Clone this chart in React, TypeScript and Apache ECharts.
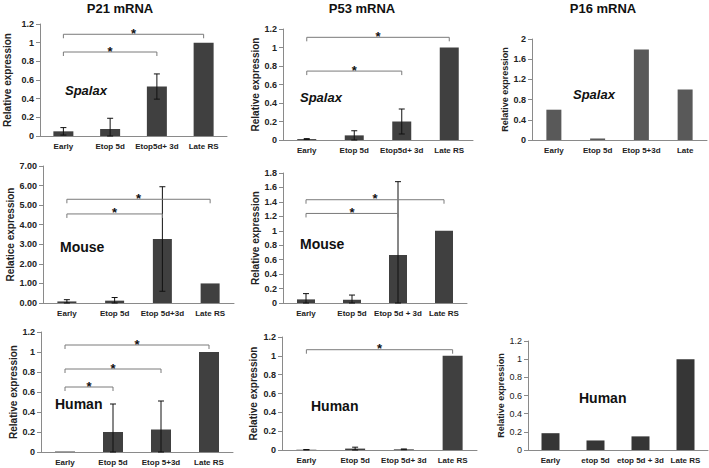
import React, { useEffect, useRef } from "react";
import * as echarts from "echarts";

// ---------- DATA ----------
const p21SpalaxCategories = ["Early", "Etop 5d", "Etop5d+ 3d", "Late RS"];
const p21SpalaxValues = [0.05, 0.075, 0.53, 1.0];
const p21SpalaxErrors = [0.04, 0.115, 0.135, 0];
const p21SpalaxBrackets = [[0, 3, 1.09], [0, 2, 0.9]];

const p53SpalaxCategories = ["Early", "Etop 5d", "Etop5d+ 3d", "Late RS"];
const p53SpalaxValues = [0.01, 0.05, 0.2, 1.0];
const p53SpalaxErrors = [0.005, 0.05, 0.135, 0];
const p53SpalaxBrackets = [[0, 3, 1.11], [0, 2, 0.745]];

const p16SpalaxCategories = ["Early", "Etop 5d", "Etop 5+3d", "Late"];
const p16SpalaxValues = [0.6, 0.03, 1.79, 1.0];

const p21MouseCategories = ["Early", "Etop 5d", "Etop 5d+3d", "Late RS"];
const p21MouseValues = [0.08, 0.12, 3.27, 1.0];
const p21MouseErrors = [0.09, 0.16, 2.67, 0];
const p21MouseBrackets = [[0, 3, 5.3], [0, 2, 4.55]];
const p21MouseTicks = ["0.00", "1.00", "2.00", "3.00", "4.00", "5.00", "6.00", "7.00"];

const p53MouseCategories = ["Early", "Etop 5d", "Etop 5d + 3d", "Late RS"];
const p53MouseValues = [0.05, 0.045, 0.665, 1.0];
const p53MouseErrors = [0.08, 0.065, 1.015, 0];
const p53MouseBrackets = [[0, 3, 1.43], [0, 2, 1.24]];

const p21HumanCategories = ["Early", "Etop 5d", "Etop 5+3d", "Late RS"];
const p21HumanValues = [0.005, 0.2, 0.225, 1.0];
const p21HumanErrors = [0, 0.28, 0.285, 0];
const p21HumanBrackets = [[0, 3, 1.07], [0, 2, 0.83], [0, 1, 0.65]];

const p53HumanCategories = ["Early", "Etop 5d", "Etop 5d+ 3d", "Late RS"];
const p53HumanValues = [0.003, 0.015, 0.007, 1.0];
const p53HumanErrors = [0.002, 0.015, 0.004, 0];
const p53HumanBrackets = [[0, 3, 1.065]];

const p16HumanCategories = ["Early", "etop 5d", "etop 5d + 3d", "Late RS"];
const p16HumanValues = [0.185, 0.105, 0.15, 1.0];

const titles = ["P21 mRNA", "P53 mRNA", "P16 mRNA"];
const yName = "Relative expression";
const yNameMouseP21 = "Relatice expression";

// ---------- LAYOUT ----------
const FONT = '"Liberation Sans", Arial, sans-serif';

type Panel = {
  cats: string[];
  values: number[];
  errors?: number[];
  brackets?: number[][];
  max: number;
  interval: number;
  yName: string;
  species: string;
  italic: boolean;
  grid: { left: number; top: number; width: number; height: number };
  nameGap: number;
  nameSize: number;
  barWidth: number;
  barColor: string;
  speciesPos: [number, number];
  speciesSize: number;
  tickFormatter?: (v: number) => string;
  yLabelWeight?: string;
};

const panels: Panel[] = [
  {
    cats: p21SpalaxCategories, values: p21SpalaxValues, errors: p21SpalaxErrors, brackets: p21SpalaxBrackets,
    max: 1.2, interval: 0.2, yName, species: "Spalax", italic: true,
    grid: { left: 40, top: 24, width: 187, height: 112 }, nameGap: 28, nameSize: 10,
    barWidth: 20, barColor: "#404040", speciesPos: [65, 90], speciesSize: 13,
  },
  {
    cats: p53SpalaxCategories, values: p53SpalaxValues, errors: p53SpalaxErrors, brackets: p53SpalaxBrackets,
    max: 1.2, interval: 0.2, yName, species: "Spalax", italic: true,
    grid: { left: 283, top: 29, width: 190, height: 111 }, nameGap: 21, nameSize: 10,
    barWidth: 19, barColor: "#404040", speciesPos: [300, 97], speciesSize: 13,
  },
  {
    cats: p16SpalaxCategories, values: p16SpalaxValues,
    max: 2, interval: 0.4, yName, species: "Spalax", italic: true,
    grid: { left: 532, top: 39, width: 175, height: 101 }, nameGap: 20, nameSize: 9,
    barWidth: 15, barColor: "#595959", speciesPos: [573, 94], speciesSize: 13,
  },
  {
    cats: p21MouseCategories, values: p21MouseValues, errors: p21MouseErrors, brackets: p21MouseBrackets,
    max: 7, interval: 1, yName: yNameMouseP21, species: "Mouse", italic: false,
    grid: { left: 43, top: 166, width: 191, height: 137 }, nameGap: 28, nameSize: 10,
    barWidth: 19, barColor: "#404040", speciesPos: [60, 247], speciesSize: 14,
    tickFormatter: (v: number) => p21MouseTicks[Math.round(v)] ?? v.toFixed(2),
  },
  {
    cats: p53MouseCategories, values: p53MouseValues, errors: p53MouseErrors, brackets: p53MouseBrackets,
    max: 1.8, interval: 0.2, yName, species: "Mouse", italic: false,
    grid: { left: 283, top: 173, width: 184, height: 130 }, nameGap: 23, nameSize: 10,
    barWidth: 18, barColor: "#404040", speciesPos: [300, 244], speciesSize: 14,
  },
  {
    cats: p21HumanCategories, values: p21HumanValues, errors: p21HumanErrors, brackets: p21HumanBrackets,
    max: 1.2, interval: 0.2, yName, species: "Human", italic: false,
    grid: { left: 41, top: 332, width: 192, height: 120 }, nameGap: 23, nameSize: 10,
    barWidth: 20, barColor: "#404040", speciesPos: [55, 404], speciesSize: 14,
  },
  {
    cats: p53HumanCategories, values: p53HumanValues, errors: p53HumanErrors, brackets: p53HumanBrackets,
    max: 1.2, interval: 0.2, yName, species: "Human", italic: false,
    grid: { left: 282, top: 337, width: 195, height: 113 }, nameGap: 24, nameSize: 10,
    barWidth: 20, barColor: "#404040", speciesPos: [311, 406], speciesSize: 14,
  },
  {
    cats: p16HumanCategories, values: p16HumanValues,
    max: 1.2, interval: 0.2, yName, species: "Human", italic: false,
    grid: { left: 528, top: 341, width: 180, height: 109 }, nameGap: 20, nameSize: 9,
    barWidth: 18, barColor: "#363636", speciesPos: [579, 398], speciesSize: 14,
    yLabelWeight: "normal",
  },
];

const titlePos: [number, number][] = [[120, 8], [362, 8], [603, 8]];

const AXIS_COLOR = "#8a8a8a";

function errorRender(params: any, api: any) {
  const x = api.value(0);
  const lo = api.value(1);
  const hi = api.value(2);
  const top = api.coord([x, hi]);
  const bot = api.coord([x, lo]);
  const w = 3;
  const st = { stroke: "#111", lineWidth: 1 };
  return {
    type: "group",
    children: [
      { type: "line", shape: { x1: top[0], y1: top[1], x2: bot[0], y2: bot[1] }, style: st },
      { type: "line", shape: { x1: top[0] - w, y1: top[1], x2: top[0] + w, y2: top[1] }, style: st },
      { type: "line", shape: { x1: bot[0] - w, y1: bot[1], x2: bot[0] + w, y2: bot[1] }, style: st },
    ],
  };
}

function bracketRender(params: any, api: any) {
  const from = api.value(0);
  const to = api.value(1);
  const y = api.value(2);
  const a = api.coord([from, y]);
  const b = api.coord([to, y]);
  const t = 4;
  return {
    type: "group",
    children: [
      {
        type: "polyline",
        shape: { points: [[a[0], a[1] + t], [a[0], a[1]], [b[0], b[1]], [b[0], b[1] + t]] },
        style: { stroke: "#7a7a7a", lineWidth: 1, fill: "none" },
      },
      {
        type: "text",
        x: (a[0] + b[0]) / 2,
        y: a[1] - 1,
        style: {
          text: "*",
          fill: "#111",
          font: `bold 13px ${FONT}`,
          align: "center",
          verticalAlign: "middle",
        },
      },
    ],
  };
}

export default function App() {
  const ref = useRef<HTMLDivElement>(null);
  useEffect(() => {
    if (!ref.current) return;
    const chart = echarts.init(ref.current, undefined, { renderer: "svg" });
    const grid: any[] = [];
    const xAxis: any[] = [];
    const yAxis: any[] = [];
    const series: any[] = [];
    const graphic: any[] = [];

    panels.forEach((p, i) => {
      grid.push({ ...p.grid, containLabel: false });
      xAxis.push({
        type: "category",
        gridIndex: i,
        data: p.cats,
        axisLine: { lineStyle: { color: AXIS_COLOR } },
        axisTick: { length: 4, lineStyle: { color: AXIS_COLOR } },
        axisLabel: {
          interval: 0,
          fontSize: 8,
          fontWeight: "bold",
          color: "#222",
          fontFamily: FONT,
          margin: 6,
        },
        splitLine: { show: false },
      });
      yAxis.push({
        type: "value",
        gridIndex: i,
        min: 0,
        max: p.max,
        interval: p.interval,
        name: p.yName,
        nameLocation: "middle",
        nameGap: p.nameGap,
        nameTextStyle: { fontSize: p.nameSize, fontWeight: "bold", color: "#222", fontFamily: FONT },
        axisLine: { show: true, lineStyle: { color: AXIS_COLOR } },
        axisTick: { show: true, length: 4, lineStyle: { color: AXIS_COLOR } },
        axisLabel: {
          fontSize: 9,
          fontWeight: p.yLabelWeight ?? "bold",
          color: "#222",
          fontFamily: FONT,
          margin: 6,
          formatter: p.tickFormatter,
        },
        splitLine: { show: false },
      });
      series.push({
        type: "bar",
        xAxisIndex: i,
        yAxisIndex: i,
        data: p.values,
        barWidth: p.barWidth,
        itemStyle: { color: p.barColor },
        z: 2,
      });
      if (p.errors) {
        const errData = p.values
          .map((v, k) => [k, Math.max(0, v - p.errors![k]), v + p.errors![k], p.errors![k]])
          .filter((d) => d[3] > 0);
        series.push({
          type: "custom",
          xAxisIndex: i,
          yAxisIndex: i,
          renderItem: errorRender,
          data: errData,
          encode: { x: 0, y: [1, 2] },
          z: 4,
          silent: true,
        });
      }
      if (p.brackets) {
        series.push({
          type: "custom",
          xAxisIndex: i,
          yAxisIndex: i,
          renderItem: bracketRender,
          data: p.brackets,
          encode: { x: [0, 1], y: 2 },
          z: 5,
          silent: true,
          clip: false,
        });
      }
      graphic.push({
        type: "text",
        left: undefined,
        x: p.speciesPos[0],
        y: p.speciesPos[1],
        style: {
          text: p.species,
          fill: "#111",
          font: `${p.italic ? "italic " : ""}bold ${p.speciesSize}px ${FONT}`,
          align: "left",
          verticalAlign: "middle",
        },
        z: 10,
      });
    });

    titles.forEach((t, i) => {
      graphic.push({
        type: "text",
        x: titlePos[i][0],
        y: titlePos[i][1],
        style: {
          text: t,
          fill: "#111",
          font: `bold 13px ${FONT}`,
          align: "center",
          verticalAlign: "middle",
        },
      });
    });

    chart.setOption({
      animation: false,
      backgroundColor: "#ffffff",
      grid,
      xAxis,
      yAxis,
      series,
      graphic,
    });
    return () => chart.dispose();
  }, []);

  return (
    <div
      ref={ref}
      style={{ position: "fixed", left: 0, top: 0, width: 709, height: 468, background: "#fff" }}
    />
  );
}
